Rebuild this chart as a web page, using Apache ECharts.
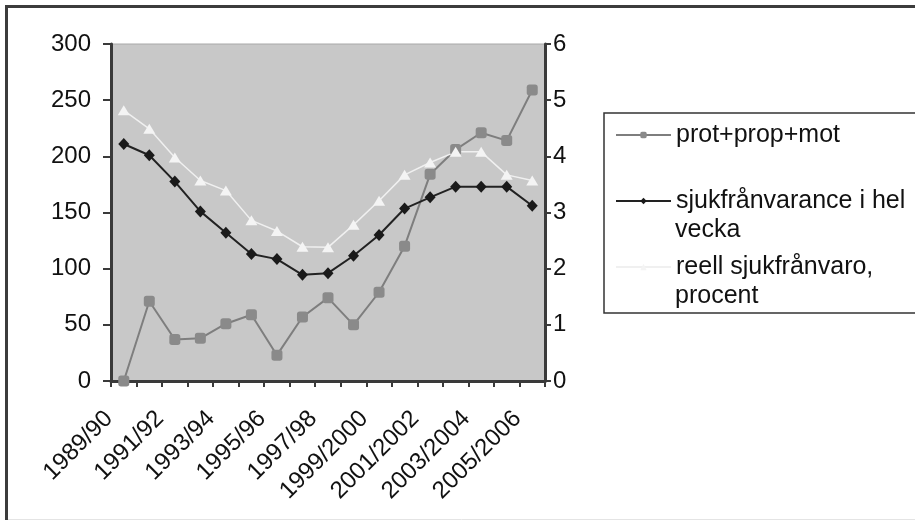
<!DOCTYPE html>
<html>
<head>
<meta charset="utf-8">
<script src="https://cdn.jsdelivr.net/npm/echarts@6/dist/echarts.min.js"></script>
<style>
html,body{margin:0;padding:0;background:#fff;}
#main{width:915px;height:520px;}
</style>
</head>
<body>
<div id="main"></div>
<script>
// data
var years = ['1989/90','1990/91','1991/92','1992/93','1993/94','1994/95','1995/96','1996/97','1997/98',
  '1998/99','1999/2000','2000/2001','2001/2002','2002/2003','2003/2004','2004/2005','2005/2006'];
var protPropMot = [0, 71, 37, 38, 51, 59, 23, 57, 74, 50, 79, 120, 184, 206, 221, 214, 259];
var sjukHelVecka = [4.22, 4.02, 3.55, 3.02, 2.64, 2.26, 2.17, 1.89, 1.92, 2.23, 2.60, 3.07, 3.27, 3.46, 3.46, 3.46, 3.12];
var reellSjuk = [4.82, 4.49, 3.98, 3.57, 3.39, 2.86, 2.67, 2.39, 2.38, 2.78, 3.21, 3.67, 3.89, 4.08, 4.08, 3.67, 3.57];
var seriesNames = ['prot+prop+mot', 'sjukfrånvarance i hel vecka', 'reell sjukfrånvaro, procent'];
// legend text, line by line
var legendLines = [['prot+prop+mot'], ['sjukfrånvarance i hel', 'vecka'], ['reell sjukfrånvaro,', 'procent']];

var font = 'Liberation Sans, Arial, sans-serif';
var myChart = echarts.init(document.getElementById('main'));

// second lines of the legend entries (legend centres the icon on multi-line text, so they go here)
var extraText = [];
var lineY = [135, 201, 267];
for (var i = 0; i < legendLines.length; i++) {
  for (var j = 1; j < legendLines[i].length; j++) {
    extraText.push({
      type: 'text', left: 675, top: lineY[i] + 30 * j - 13, z: 100,
      style: {text: legendLines[i][j], font: '25px ' + font, fill: '#111', verticalAlign: 'top'}
    });
  }
}

myChart.setOption({
  animation: false,
  backgroundColor: '#fff',
  graphic: [
    {type: 'rect', shape: {x: 6.5, y: 6.5, width: 1200, height: 1200},
      style: {fill: 'none', stroke: '#3c3c3c', lineWidth: 3}, z: 0},
    {type: 'line', shape: {x1: 8, y1: 519.5, x2: 915, y2: 519.5},
      style: {stroke: '#e4e4e4', lineWidth: 1}, z: 0}
  ].concat(extraText),
  grid: {
    left: 111, top: 44, width: 434, height: 337,
    show: true, backgroundColor: '#c8c8c8', borderColor: '#a8a8a8', borderWidth: 1,
    outerBoundsMode: 'none'
  },
  legend: {
    orient: 'vertical',
    left: 604, top: 113,
    padding: [7, 30, 31, 11],
    itemGap: 36,
    itemWidth: 55,
    itemHeight: 8,
    borderColor: '#333',
    borderWidth: 1.5,
    data: seriesNames,
    formatter: function (name) {
      return legendLines[seriesNames.indexOf(name)][0];
    },
    textStyle: {fontSize: 25, fontFamily: font, color: '#111', lineHeight: 30}
  },
  xAxis: {
    type: 'category',
    data: years,
    boundaryGap: true,
    axisLine: {lineStyle: {color: '#3a3a3a', width: 3}},
    axisTick: {show: true, interval: 0, length: 6, lineStyle: {color: '#3a3a3a', width: 2}},
    axisLabel: {interval: 1, rotate: 45, margin: 19, padding: [0, 21, 0, 0],
      fontSize: 24, fontFamily: font, color: '#111'},
    splitLine: {show: false}
  },
  yAxis: [
    {
      type: 'value', min: 0, max: 300, interval: 50,
      axisLine: {show: true, lineStyle: {color: '#3a3a3a', width: 3}},
      axisTick: {show: true, length: 8, lineStyle: {color: '#3a3a3a', width: 2}},
      axisLabel: {margin: 20, fontSize: 24, fontFamily: font, color: '#111'},
      splitLine: {show: false}
    },
    {
      type: 'value', min: 0, max: 6, interval: 1, position: 'right',
      axisLine: {show: true, lineStyle: {color: '#3a3a3a', width: 3}},
      axisTick: {show: true, length: 6, lineStyle: {color: '#3a3a3a', width: 2}},
      axisLabel: {margin: 8, fontSize: 24, fontFamily: font, color: '#111'},
      splitLine: {show: false}
    }
  ],
  series: [
    {
      name: seriesNames[0], type: 'line', yAxisIndex: 0, data: protPropMot,
      symbol: 'roundRect', symbolSize: 11,
      itemStyle: {color: '#8a8a8a'},
      lineStyle: {color: '#7e7e7e', width: 2}
    },
    {
      name: seriesNames[1], type: 'line', yAxisIndex: 1, data: sjukHelVecka,
      symbol: 'diamond', symbolSize: [11, 12],
      itemStyle: {color: '#1a1a1a'},
      lineStyle: {color: '#222', width: 2}
    },
    {
      name: seriesNames[2], type: 'line', yAxisIndex: 1, data: reellSjuk,
      symbol: 'triangle', symbolSize: [12, 10],
      itemStyle: {color: '#f4f4f4'},
      lineStyle: {color: '#f0f0f0', width: 1.5}
    }
  ]
});
</script>
</body>
</html>
